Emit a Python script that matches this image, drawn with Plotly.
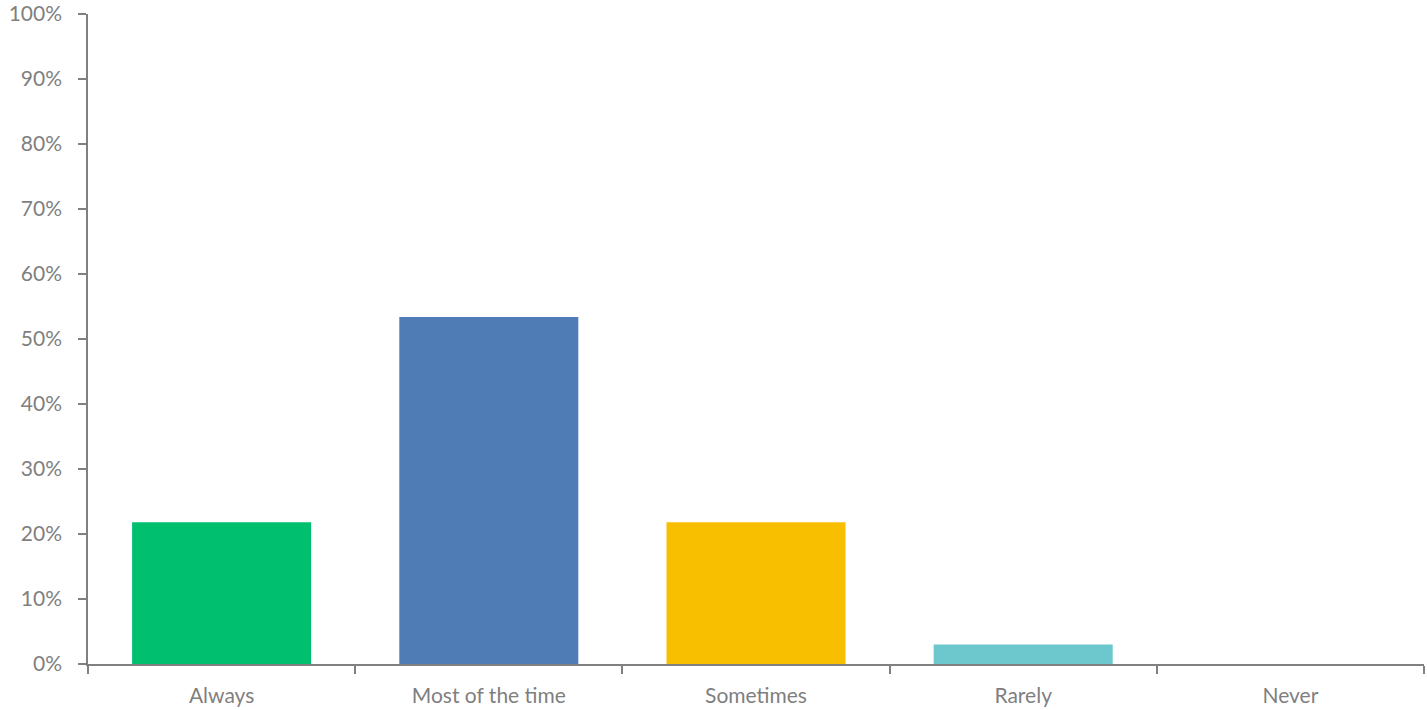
import plotly.graph_objects as go

categories = ["Always", "Most of the time", "Sometimes", "Rarely", "Never"]
values = [0.218, 0.534, 0.218, 0.03, 0.0]
colors = ["#00BF6F", "#507CB6", "#F8BE00", "#6CC8CC", "#A0A0A0"]
y_ticks = [i / 10 for i in range(11)]
y_labels = [f"{i*10}%" for i in range(11)]

axis_color = "#808080"
text_color = "#7F7F7F"
tick_font = dict(family="Lato, Open Sans, sans-serif", size=21, color=text_color)

fig = go.Figure(go.Bar(x=categories, y=values, marker=dict(color=colors, line=dict(width=0)),
                       hoverinfo="x+y"))

fig.update_layout(
    width=1427, height=710,
    margin=dict(l=88, r=3, t=14, b=46),
    paper_bgcolor="white", plot_bgcolor="white",
    bargap=0.33,
    showlegend=False,
    font=tick_font,
)
fig.update_xaxes(
    showline=True, linecolor=axis_color, linewidth=1.5,
    ticks="outside", tickson="boundaries", ticklen=8, tickwidth=1.5, tickcolor=axis_color,
    showgrid=False, zeroline=False, ticklabelstandoff=12, automargin=False,
    tickfont=tick_font, ticklabeloverflow="allow",
)
fig.update_yaxes(
    range=[0, 1], tickvals=y_ticks, ticktext=y_labels,
    showline=True, linecolor=axis_color, linewidth=1.5,
    ticks="outside", ticklen=8, tickwidth=1.5, tickcolor=axis_color,
    showgrid=False, zeroline=False, ticklabelstandoff=12, automargin=False,
    tickfont=tick_font, ticklabeloverflow="allow",
)

fig.write_html(
    "out.html",
    config={"displayModeBar": False},
    post_script="document.body.style.margin='0px';document.body.style.overflow='hidden';",
)
